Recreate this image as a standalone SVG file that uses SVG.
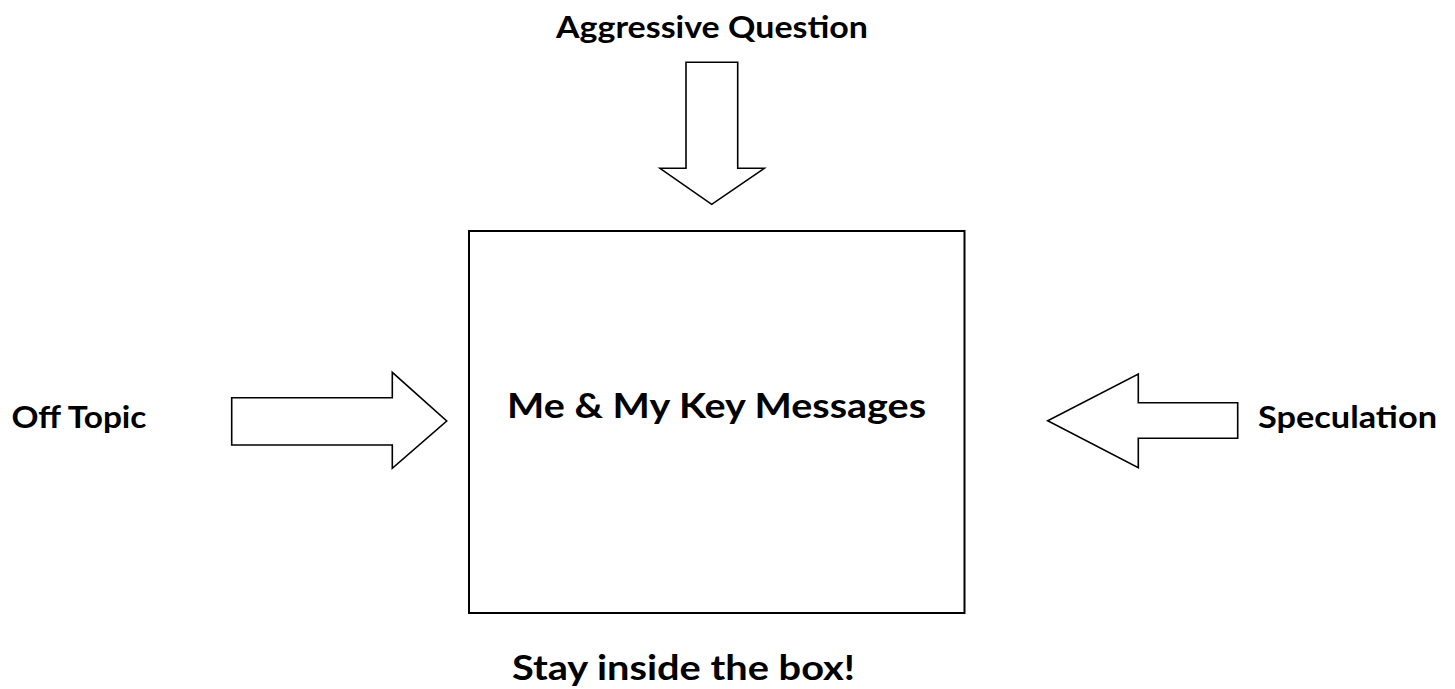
<svg xmlns="http://www.w3.org/2000/svg" width="1455" height="689" viewBox="0 0 1455 689">
  <style>
    .lbl { font-family: Lato, "Open Sans", "Liberation Sans", sans-serif; font-weight: bold; fill: #000; }
    .box { fill: #fff; stroke: #000; stroke-width: 2; }
    .blk { fill: #fff; stroke: #000; stroke-width: 1.6; stroke-linejoin: miter; }
  </style>
  <rect width="1455" height="689" fill="#fff"/>

  <!-- central box -->
  <g id="key-messages">
    <rect class="box" x="469" y="231" width="495.5" height="382"/>
    <text class="lbl" x="507" y="418" font-size="33.5" textLength="419" lengthAdjust="spacingAndGlyphs">Me &amp; My Key Messages</text>
  </g>

  <!-- outside pressures -->
  <g id="aggressive-question">
    <text class="lbl" x="556" y="38" font-size="30" textLength="312" lengthAdjust="spacingAndGlyphs">Aggressive Question</text>
  </g>
  <g id="off-topic">
    <text class="lbl" x="11.5" y="428" font-size="30" textLength="135" lengthAdjust="spacingAndGlyphs">Off Topic</text>
  </g>
  <g id="speculation">
    <text class="lbl" x="1258" y="428" font-size="30" textLength="179" lengthAdjust="spacingAndGlyphs">Speculation</text>
  </g>

  <!-- caption -->
  <g id="caption">
    <text class="lbl" x="512" y="680" font-size="33.5" textLength="343" lengthAdjust="spacingAndGlyphs">Stay inside the box!</text>
  </g>

  <!-- block arrows pointing at the box -->
  <g id="connectors">
    <polygon class="blk" points="686,62.3 737.7,62.3 737.7,168.3 764.3,168.3 711.7,204.3 660,168.3 686,168.3"/>
    <polygon class="blk" points="231.7,397.7 392.3,397.7 392.3,372.3 446.7,421 392.3,468.3 392.3,445 231.7,445"/>
    <polygon class="blk" points="1237.7,402.7 1138.3,402.7 1138.3,374 1047.7,420.7 1138.3,467.7 1138.3,438.3 1237.7,438.3"/>
  </g>
</svg>
